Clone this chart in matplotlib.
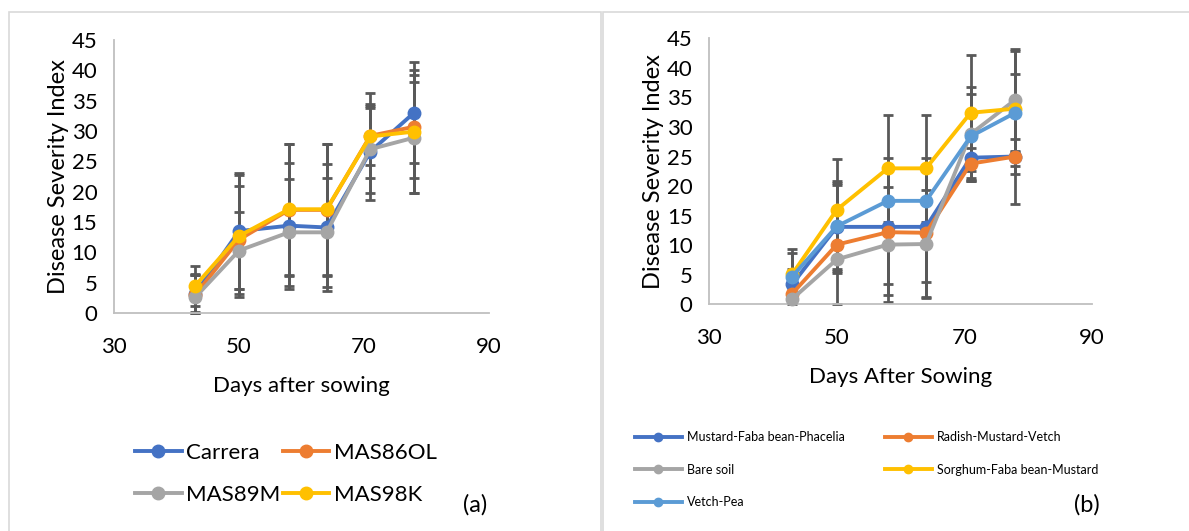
import numpy as np
import matplotlib.pyplot as plt
from matplotlib.lines import Line2D
from matplotlib.patches import Rectangle

plt.rcParams['font.family'] = ['Lato', 'DejaVu Sans']

# ---------------- data ----------------
days = [43, 50, 58, 64, 71, 78]

# panel (a) : varieties
names_a = ['Carrera', 'MAS86OL', 'MAS89M', 'MAS98K']
carrera = [3.2, 13.5, 14.4, 14.1, 26.6, 33.0]
mas86ol = [3.0, 12.1, 17.0, 17.0, 29.2, 30.7]
mas89m = [2.6, 10.3, 13.3, 13.3, 27.0, 28.9]
mas98k = [4.5, 12.7, 17.1, 17.1, 29.1, 29.9]
err_carrera = [3.0, 9.5, 10.4, 10.4, 7.9, 8.3]
err_mas86ol = [3.5, 8.9, 10.9, 10.9, 7.0, 8.5]
err_mas89m = [3.7, 6.4, 8.8, 9.0, 7.2, 9.1]
err_mas98k = [3.3, 10.0, 10.8, 10.8, 4.7, 10.2]

# panel (b) : cover crops
names_b = ['Mustard-Faba bean-Phacelia', 'Radish-Mustard-Vetch', 'Bare soil',
           'Sorghum-Faba bean-Mustard', 'Vetch-Pea']
mfp = [3.4, 13.1, 13.1, 13.1, 24.8, 25.0]
rmv = [1.8, 10.1, 12.2, 12.1, 23.8, 25.0]
bare = [0.9, 7.6, 10.1, 10.2, 28.8, 34.6]
sfm = [5.1, 16.0, 23.0, 23.0, 32.4, 33.1]
vp = [4.7, 13.2, 17.5, 17.5, 28.4, 32.4]
err_mfp = [2.5, 7.8, 9.7, 9.4, 4.0, 8.0]
err_rmv = [1.0, 10.1, 10.6, 10.8, 2.7, 3.0]
err_bare = [0.8, 2.0, 9.7, 9.2, 8.0, 8.6]
err_sfm = [4.3, 8.6, 9.0, 9.0, 9.8, 9.7]
err_vp = [3.9, 7.3, 7.3, 7.3, 7.1, 6.6]

cols = ['#4472C4', '#ED7D31', '#A5A5A5', '#FFC000', '#5B9BD5']
ecol = '#595959'

fig = plt.figure(figsize=(11.89, 5.31), dpi=100)

# panel frames
fig.add_artist(Rectangle((9/1189, -0.01), 592/1189, 1.01 - 12/531, transform=fig.transFigure,
                         fill=False, ec='#d9d9d9', lw=1.2))
fig.add_artist(Rectangle((603/1189, -0.01), 600/1189, 1.01 - 12/531, transform=fig.transFigure,
                         fill=False, ec='#d9d9d9', lw=1.2))


def style_ax(ax, xlabel):
    ax.set_xlim(30, 90)
    ax.set_ylim(0, 45)
    ax.set_xticks([30, 50, 70, 90])
    ax.set_yticks(range(0, 46, 5))
    for s in ['top', 'right']:
        ax.spines[s].set_visible(False)
    for s in ['left', 'bottom']:
        ax.spines[s].set_color('#bfbfbf')
        ax.spines[s].set_linewidth(1.3)
    ax.tick_params(length=0, labelsize=16, colors='black')
    ax.tick_params(axis='x', pad=17)
    ax.tick_params(axis='y', pad=12)
    ax.set_xlabel(xlabel, fontsize=16, labelpad=14)
    ax.set_ylabel('Disease Severity Index', fontsize=17, labelpad=2)


def draw(ax, series, errs, colors):
    for y, e in zip(series, errs):
        lo = np.minimum(e, y)
        ax.errorbar(days, y, yerr=[lo, e], fmt='none', ecolor=ecol, elinewidth=2, capsize=3.8,
                    capthick=2, zorder=1, clip_on=False)
    for y, c in zip(series, colors):
        ax.plot(days, y, '-o', color=c, lw=2.8, ms=9, zorder=3, clip_on=False)


# ---------------- (a) ----------------
ax1 = fig.add_axes([0.0959, 0.4105, 0.3154, 0.5142])
draw(ax1, [carrera, mas86ol, mas89m, mas98k],
     [err_carrera, err_mas86ol, err_mas89m, err_mas98k], cols[:4])
style_ax(ax1, 'Days after sowing')

h_a = [Line2D([], [], color=c, lw=2.8, marker='o', ms=9) for c in cols[:4]]
order_a = [0, 2, 1, 3]
fig.legend([h_a[i] for i in order_a], [names_a[i] for i in order_a], loc='upper left',
           bbox_to_anchor=(135/1189, 1 - 443/531), ncol=2, frameon=False, borderpad=0,
           borderaxespad=0, fontsize=16, handlelength=2.1, handletextpad=0.2,
           columnspacing=0.1, labelspacing=1.0)
fig.text(475/1189, 1 - 505/531, '(a)', fontsize=17, ha='center', va='center')

# ---------------- (b) ----------------
ax2 = fig.add_axes([0.5966, 0.4269, 0.3216, 0.5010])
draw(ax2, [mfp, rmv, bare, sfm, vp], [err_mfp, err_rmv, err_bare, err_sfm, err_vp], cols)
style_ax(ax2, 'Days After Sowing')

h_b = [Line2D([], [], color=c, lw=2.8, marker='o', ms=6) for c in cols]
order_b = [0, 2, 4, 1, 3]
fig.legend([h_b[i] for i in order_b], [names_b[i] for i in order_b], loc='upper left',
           bbox_to_anchor=(635/1189, 1 - 431/531), ncol=2, frameon=False, borderpad=0,
           borderaxespad=0, fontsize=9, handlelength=3.75, handletextpad=0.4,
           columnspacing=3.2, labelspacing=1.65)
fig.text(1087/1189, 1 - 505/531, '(b)', fontsize=17, ha='center', va='center')

fig.savefig('out.png', dpi=100)
